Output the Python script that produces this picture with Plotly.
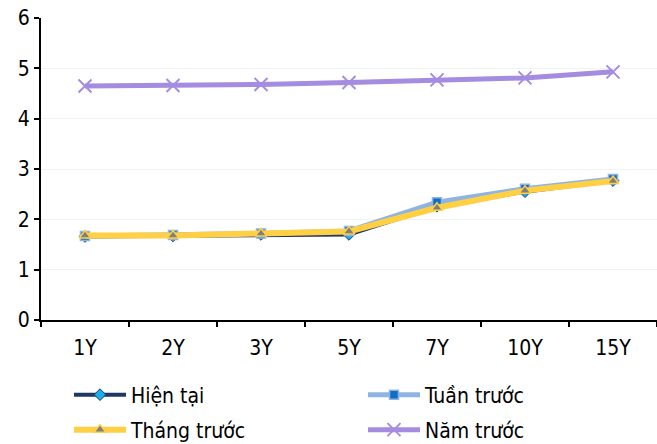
import plotly.graph_objects as go

# Kỳ hạn
tenors = ["1Y", "2Y", "3Y", "5Y", "7Y", "10Y", "15Y"]

# Lợi suất (%) theo từng mốc thời gian
hien_tai = [1.66, 1.67, 1.70, 1.70, 2.26, 2.55, 2.77]
tuan_truoc = [1.67, 1.69, 1.72, 1.77, 2.34, 2.61, 2.80]
thang_truoc = [1.68, 1.68, 1.72, 1.76, 2.23, 2.57, 2.76]
nam_truoc = [4.65, 4.66, 4.68, 4.72, 4.77, 4.81, 4.93]

y_ticks = [0, 1, 2, 3, 4, 5, 6]

FONT = "DejaVu Sans Condensed, DejaVu Sans, sans-serif"

fig = go.Figure()

fig.add_trace(go.Scatter(
    x=tenors, y=hien_tai, name="Hiện tại", mode="lines+markers",
    line=dict(color="#1f3864", width=4),
    marker=dict(symbol="diamond", size=9, color="#19b0ea",
                line=dict(color="#1f3864", width=1)),
    legend="legend",
))
fig.add_trace(go.Scatter(
    x=tenors, y=tuan_truoc, name="Tuần trước", mode="lines+markers",
    line=dict(color="#8db4e2", width=5),
    marker=dict(symbol="square", size=9, color="#0f6fc6",
                line=dict(color="#8db4e2", width=1.5)),
    legend="legend",
))
fig.add_trace(go.Scatter(
    x=tenors, y=thang_truoc, name="Tháng trước", mode="lines+markers",
    line=dict(color="#ffcf44", width=6),
    marker=dict(symbol="triangle-up", size=10, color="#7f7f7f",
                line=dict(color="#ffcf44", width=1.5)),
    legend="legend2",
))
fig.add_trace(go.Scatter(
    x=tenors, y=nam_truoc, name="Năm trước", mode="lines+markers",
    line=dict(color="#a48ce0", width=5),
    marker=dict(symbol="x-thin", size=13, color="#a48ce0",
                line=dict(color="#a48ce0", width=2)),
    legend="legend2",
))

legend_common = dict(
    orientation="h", x=0.047, xanchor="left",
    yref="container", yanchor="middle",
    entrywidth=227, itemwidth=52,
    font=dict(family=FONT, size=21, color="#000000"),
    bgcolor="rgba(0,0,0,0)",
)

fig.update_layout(
    width=657, height=444,
    margin=dict(l=41, r=0, t=18, b=124),
    paper_bgcolor="white", plot_bgcolor="white",
    font=dict(family=FONT, size=21, color="#000000"),
    showlegend=True,
    legend=dict(y=1 - 395 / 444, **legend_common),
    legend2=dict(y=1 - 430 / 444, **legend_common),
)

fig.update_xaxes(
    type="category", range=[-0.5, 6.5],
    showline=True, linecolor="#000000", linewidth=2,
    ticks="outside", ticklen=5, tickwidth=2, tickcolor="#000000",
    tickson="boundaries", ticklabelstandoff=8,
    showgrid=False, zeroline=False,
    tickfont=dict(family=FONT, size=21, color="#000000"),
)
fig.update_yaxes(
    range=[0, 6], tickvals=y_ticks,
    showline=True, linecolor="#000000", linewidth=2,
    ticks="outside", ticklen=5, tickwidth=2, tickcolor="#000000",
    showgrid=True, gridcolor="#eef3f9", gridwidth=1,
    zeroline=False,
    tickfont=dict(family=FONT, size=21, color="#000000"),
)

fig.write_html("out.html")
